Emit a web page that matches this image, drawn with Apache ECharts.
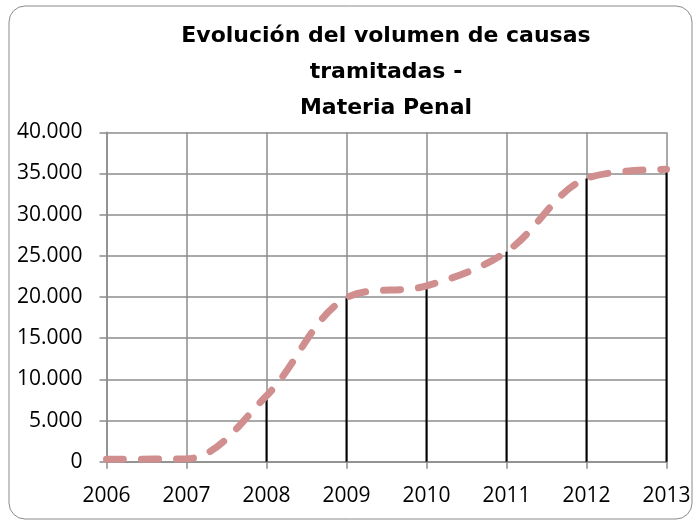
<!DOCTYPE html>
<html>
<head>
<meta charset="utf-8">
<script src="https://cdn.jsdelivr.net/npm/echarts@6/dist/echarts.min.js"></script>
<style>
  html, body { margin: 0; padding: 0; background: #fff; }
  #chart { width: 698px; height: 523px; }
</style>
</head>
<body>
<div id="chart"></div>
<script>
// años y causas tramitadas
const years = [2006, 2007, 2008, 2009, 2010, 2011, 2012, 2013]
const causas = [300, 350, 8000, 19900, 21350, 25500, 34400, 35500]
const titleText = 'Evolución del volumen de causas\ntramitadas -\nMateria Penal'

const points = years.map((y, i) => [y, causas[i]])
const fmt = v => String(v).replace(/\B(?=(\d{3})+(?!\d))/g, '.')

const chart = echarts.init(document.getElementById('chart'))
chart.setOption({
  animation: false,
  textStyle: { fontFamily: 'Open Sans' },
  title: {
    text: titleText,
    left: 381,
    textAlign: 'center',
    top: 13,
    textStyle: { fontFamily: 'DejaVu Sans', fontSize: 22, fontWeight: 'bold', color: '#000', lineHeight: 36 }
  },
  graphic: [{
    type: 'rect',
    shape: { x: 9, y: 6, width: 683, height: 513, r: 16 },
    style: { fill: 'none', stroke: '#8a8a8a', lineWidth: 1 },
    silent: true
  }],
  grid: { left: 106.5, right: 31.5, top: 132.3, bottom: 61.3 },
  xAxis: {
    type: 'value',
    min: 2006,
    max: 2013,
    interval: 1,
    axisLine: { show: true, lineStyle: { color: '#8c8c8c', width: 1.5 } },
    axisTick: { show: true, length: 7, lineStyle: { color: '#8c8c8c', width: 1.5 } },
    axisLabel: { color: '#000', fontSize: 21, margin: 24, formatter: v => String(v) },
    splitLine: { show: true, lineStyle: { color: '#8c8c8c', width: 1.5 } }
  },
  yAxis: {
    type: 'value',
    min: 0,
    max: 40000,
    interval: 5000,
    axisLine: { show: true, lineStyle: { color: '#8c8c8c', width: 1.5 } },
    axisTick: { show: true, length: 7, lineStyle: { color: '#8c8c8c', width: 1.5 } },
    axisLabel: { color: '#000', fontSize: 21, margin: 24, formatter: fmt },
    splitLine: { show: true, lineStyle: { color: '#8c8c8c', width: 1.5 } }
  },
  series: [
    {
      // líneas de caída hasta el eje
      type: 'bar',
      data: points,
      barWidth: 2,
      itemStyle: { color: '#000' },
      z: 2
    },
    {
      type: 'line',
      data: points,
      smooth: 0.35,
      symbol: 'none',
      lineStyle: { color: '#d08e8e', width: 7, type: [17, 18], cap: 'round' },
      z: 3
    }
  ]
})
</script>
</body>
</html>
